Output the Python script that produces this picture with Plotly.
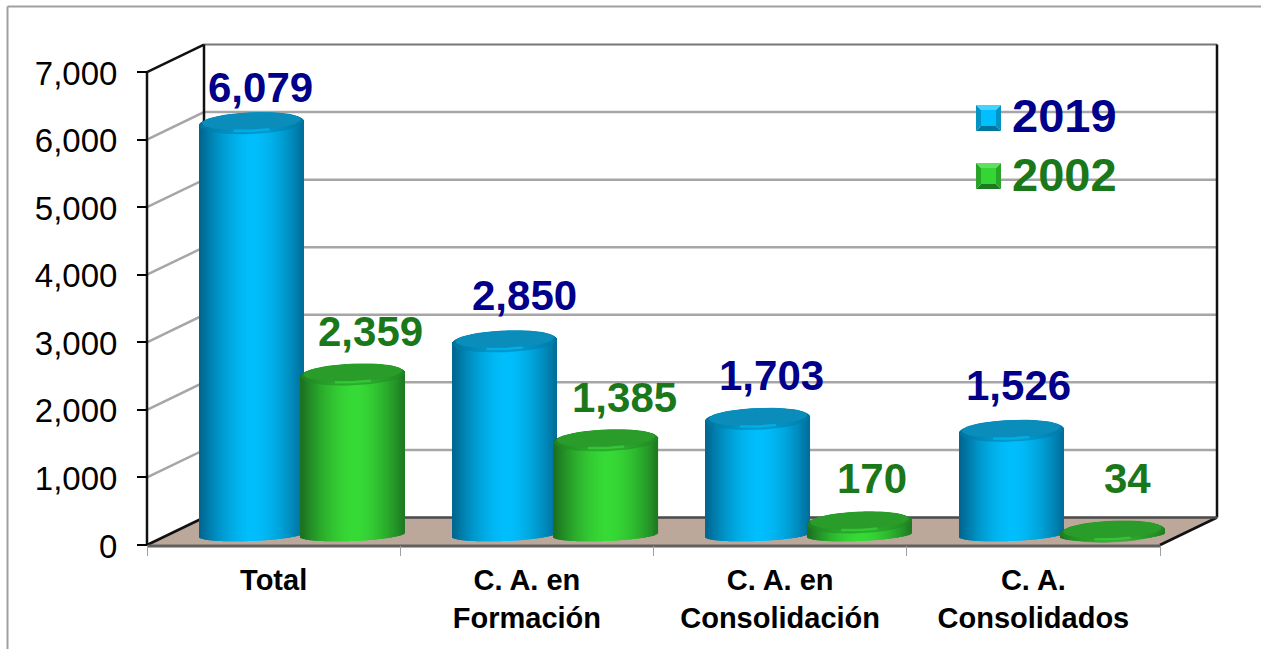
import math
import plotly.graph_objects as go

# ---------- data ----------
categories = ["Total", "C. A. en<br>Formación", "C. A. en<br>Consolidación", "C. A.<br>Consolidados"]
values_2019 = [6079, 2850, 1703, 1526]
values_2002 = [2359, 1385, 170, 34]
y_ticks = [0, 1000, 2000, 3000, 4000, 5000, 6000, 7000]
series_names = ["2019", "2002"]

# ---------- geometry (pixels per axis unit, 3-D look) ----------
W, H = 1261, 649
SX = 253.25        # px per category
SY = 0.06757       # px per value unit
X0, Y0 = 147, 545  # px position of the front origin
DX = 57 / SX       # depth offset of back wall
DY = 27.5 / SY
BASE = 11 / SY     # cylinders stand mid-floor
FOOT = 10 / SY
SHIFT = 28.5 / SX
OFF = 0.2
HALF = 52 / SX
B_TOP = 10.5 / SY
B_BOT = 6 / SY
TILT = 0.04        # ellipse tilt, px/px
N = 105

def px2x(p):
    return (p - X0) / SX

def py2y(p):
    return (Y0 - p) / SY

def mix(a, b, f):
    return "rgb(%d,%d,%d)" % tuple(round(a[i] + (b[i] - a[i]) * f) for i in range(3))

def cylinder_trace(values, off, dark, bright, name):
    xs, ys, bases, cols, widths = [], [], [], [], []
    for i, v in enumerate(values):
        cx = i + 0.5 + SHIFT + off
        for k in range(N):
            u = -1 + (2 * k + 1) / N
            root = math.sqrt(max(0, 1 - u * u))
            tilt = TILT * u * HALF * SX / SY
            bottom = FOOT - B_BOT * root + tilt
            top = BASE + v + B_TOP * root + tilt
            xs.append(cx + u * HALF)
            bases.append(bottom)
            ys.append(top - bottom)
            widths.append(2 * HALF / N * 1.15)
            f = 1 - abs(u - 0.04) ** 1.7
            cols.append(mix(dark, bright, max(0, f)))
    return go.Bar(x=xs, y=ys, base=bases, width=widths, marker=dict(color=cols, line=dict(width=0)),
                  cliponaxis=False, hoverinfo="skip", showlegend=False, name=name)

def ellipse_points(cx, cy, a, b, t0=0.0, t1=2 * math.pi, n=60):
    px, py = [], []
    for k in range(n + 1):
        t = t0 + (t1 - t0) * k / n
        u = math.cos(t)
        px.append(cx + a * u)
        py.append(cy + b * math.sin(t) + TILT * a * u * SX / SY)
    return px, py

def cap_traces(values, off, dark_fill, glow, shoulder):
    fx, fy, hx, hy, sx, sy = [], [], [], [], [], []
    for i, v in enumerate(values):
        cx = i + 0.5 + SHIFT + off
        cy = BASE + v
        ox, oy = ellipse_points(cx, cy, HALF, B_TOP)
        sx += ox + [None]
        sy += oy + [None]
        ex, ey = ellipse_points(cx, cy + 2 / SY, HALF * 0.94, B_TOP * 0.8)
        fx += ex + [None]
        fy += ey + [None]
        lx, ly = ellipse_points(cx, cy + 1 / SY, HALF * 0.94, B_TOP * 0.8,
                                math.pi * 1.38, math.pi * 1.62, 24)
        hx += lx + [None]
        hy += ly + [None]
    return [
        go.Scatter(x=sx, y=sy, mode="lines", fill="toself", fillcolor=shoulder,
                   line=dict(color=shoulder, width=0.5), hoverinfo="skip", showlegend=False),
        go.Scatter(x=fx, y=fy, mode="lines", fill="toself", fillcolor=dark_fill,
                   line=dict(color=dark_fill, width=1), hoverinfo="skip", showlegend=False),
        go.Scatter(x=hx, y=hy, mode="lines", line=dict(color=glow, width=2.5),
                   hoverinfo="skip", showlegend=False),
    ]

BLUE_D, BLUE_B = (0, 104, 146), (0, 190, 252)
GREEN_D, GREEN_B = (28, 114, 32), (54, 218, 54)

fig = go.Figure()
fig.add_trace(cylinder_trace(values_2019, -OFF, BLUE_D, BLUE_B, series_names[0]))
fig.add_trace(cylinder_trace(values_2002, OFF, GREEN_D, GREEN_B, series_names[1]))
for t in cap_traces(values_2019, -OFF, "#0A8DBB", "rgba(0,190,250,0.6)", "rgba(0,125,170,0.55)"):
    fig.add_trace(t)
for t in cap_traces(values_2002, OFF, "#2A9C2A", "rgba(60,215,60,0.6)", "rgba(34,140,38,0.55)"):
    fig.add_trace(t)

# ---------- walls, floor, gridlines ----------
RIGHT = len(categories)
shapes = []
shapes.append(dict(type="path", layer="below", line=dict(width=0), fillcolor="#BCA79B",
                   path=f"M0,0 L{DX},{DY} L{RIGHT + DX},{DY} L{RIGHT},0 Z"))
for v in y_ticks[1:]:
    c = "#A6A6A6"
    if v < y_ticks[-1]:
        shapes.append(dict(type="path", layer="below", line=dict(color=c, width=2.5),
                           path=f"M0,{v} L{DX},{v + DY} L{RIGHT + DX},{v + DY}"))
top = y_ticks[-1]
K = "#111111"
shapes += [
    dict(type="line", layer="below", x0=DX, x1=RIGHT + DX, y0=top + DY, y1=top + DY, line=dict(color="#777777", width=2)),
    dict(type="line", layer="below", x0=DX, x1=DX, y0=DY, y1=top + DY, line=dict(color=K, width=2.5)),
    dict(type="line", layer="below", x0=RIGHT + DX, x1=RIGHT + DX, y0=DY, y1=top + DY, line=dict(color=K, width=2.5)),
    dict(type="line", layer="below", x0=0, x1=DX, y0=top, y1=top + DY, line=dict(color=K, width=2.5)),
    dict(type="line", layer="below", x0=0, x1=DX, y0=0, y1=DY, line=dict(color=K, width=2.5)),
    dict(type="line", layer="below", x0=RIGHT, x1=RIGHT + DX, y0=0, y1=DY, line=dict(color=K, width=2.5)),
    dict(type="line", layer="below", x0=DX, x1=RIGHT + DX, y0=DY, y1=DY, line=dict(color="#4A4A4A", width=2.5)),
    dict(type="line", layer="below", x0=0, x1=RIGHT, y0=-1 / SY, y1=-1 / SY, line=dict(color="#606060", width=3)),
    dict(type="line", layer="below", x0=0, x1=0, y0=0, y1=top, line=dict(color=K, width=2.5)),
    # outer frame
    dict(type="line", layer="below", xref="paper", yref="paper", x0=7.5 / W, x1=1, y0=1 - 6.5 / H, y1=1 - 6.5 / H, line=dict(color="#A0A0A0", width=2)),
    dict(type="line", layer="below", xref="paper", yref="paper", x0=7.5 / W, x1=7.5 / W, y0=0, y1=1 - 6.5 / H, line=dict(color="#A0A0A0", width=2)),
]

# ---------- legend (bevelled swatches and text) ----------
def swatch(x0, y0, x1, y1, centre, top_c, bottom_c, side_c):
    b = 5
    def P(pts):
        return "M" + " L".join(f"{x / W},{1 - y / H}" for x, y in pts) + " Z"
    out = []
    for pts, c in [
        ([(x0, y0), (x1, y0), (x1 - b, y0 + b), (x0 + b, y0 + b)], top_c),
        ([(x0, y1), (x1, y1), (x1 - b, y1 - b), (x0 + b, y1 - b)], bottom_c),
        ([(x0, y0), (x0 + b, y0 + b), (x0 + b, y1 - b), (x0, y1)], side_c),
        ([(x1, y0), (x1 - b, y0 + b), (x1 - b, y1 - b), (x1, y1)], side_c),
        ([(x0 + b, y0 + b), (x1 - b, y0 + b), (x1 - b, y1 - b), (x0 + b, y1 - b)], centre),
    ]:
        out.append(dict(type="path", xref="paper", yref="paper", layer="above", path=P(pts),
                        fillcolor=c, line=dict(width=0)))
    return out

shapes += swatch(976, 105, 1001, 131, "#00BFFF", "#45D2FF", "#00769E", "#0093C4")
shapes += swatch(976, 163, 1001, 189, "#33D633", "#5FE05F", "#1D7A20", "#28A428")

NAVY = "#00008B"
DGREEN = "#1A771A"
annotations = []
for name, yc, col in [(series_names[0], 116, NAVY), (series_names[1], 174.5, DGREEN)]:
    annotations.append(dict(x=1010 / W, y=1 - yc / H, xref="paper", yref="paper", text=f"<b>{name}</b>",
                            showarrow=False, xanchor="left", yanchor="middle",
                            font=dict(size=47, color=col, family="Liberation Sans")))

# ---------- value labels (moved by hand in the source chart) ----------
shift_2019 = [(9, 36), (20, 46), (14, 43), (7, 45)]
shift_2002 = [(18, 43), (18, 43), (13, 44), (15, 53)]
for vals, off, col, shifts in [(values_2019, -OFF, NAVY, shift_2019), (values_2002, OFF, DGREEN, shift_2002)]:
    for i, v in enumerate(vals):
        annotations.append(dict(x=i + 0.5 + SHIFT + off, y=BASE + v, text=f"<b>{v:,}</b>", showarrow=False,
                                xanchor="center", yanchor="middle", xshift=shifts[i][0], yshift=shifts[i][1],
                                font=dict(size=42, color=col, family="Liberation Sans")))

fig.update_layout(
    width=W, height=H, autosize=False,
    margin=dict(l=0, r=0, t=0, b=0, pad=0),
    paper_bgcolor="white", plot_bgcolor="rgba(0,0,0,0)",
    barmode="overlay", showlegend=False, shapes=shapes, annotations=annotations,
    font=dict(family="Liberation Sans", color="black"),
    xaxis=dict(range=[px2x(0), px2x(W)], anchor="free", position=(H - Y0) / H, showgrid=False, zeroline=False,
               showline=False, tickmode="array", tickvals=[i + 0.5 for i in range(len(categories))],
               ticktext=[f"<b>{c.replace('<br>', '</b><br><b>')}</b>" for c in categories],
               ticks="", ticklabelstandoff=15, tickangle=0, tickfont=dict(size=29, color="black"),
               minor=dict(tickmode="array", tickvals=list(range(len(categories) + 1)), ticks="outside",
                          ticklen=10, tickwidth=1, tickcolor="#A0A0A0", showgrid=False),
               automargin=False, fixedrange=True),
    yaxis=dict(range=[py2y(H), py2y(0)], anchor="free", position=X0 / W, showgrid=False, zeroline=False,
               showline=False, tickmode="array", tickvals=y_ticks, ticktext=[f"{v:,}" for v in y_ticks],
               ticks="outside", ticklen=10, tickwidth=2, tickcolor="black", ticklabelstandoff=13,
               ticklabelshift=1,
               tickfont=dict(size=33, color="black"), automargin=False, fixedrange=True),
)

fig.write_html("out.html", config={"displayModeBar": False},
               post_script="document.body.style.margin='0';document.body.style.overflow='hidden';")
